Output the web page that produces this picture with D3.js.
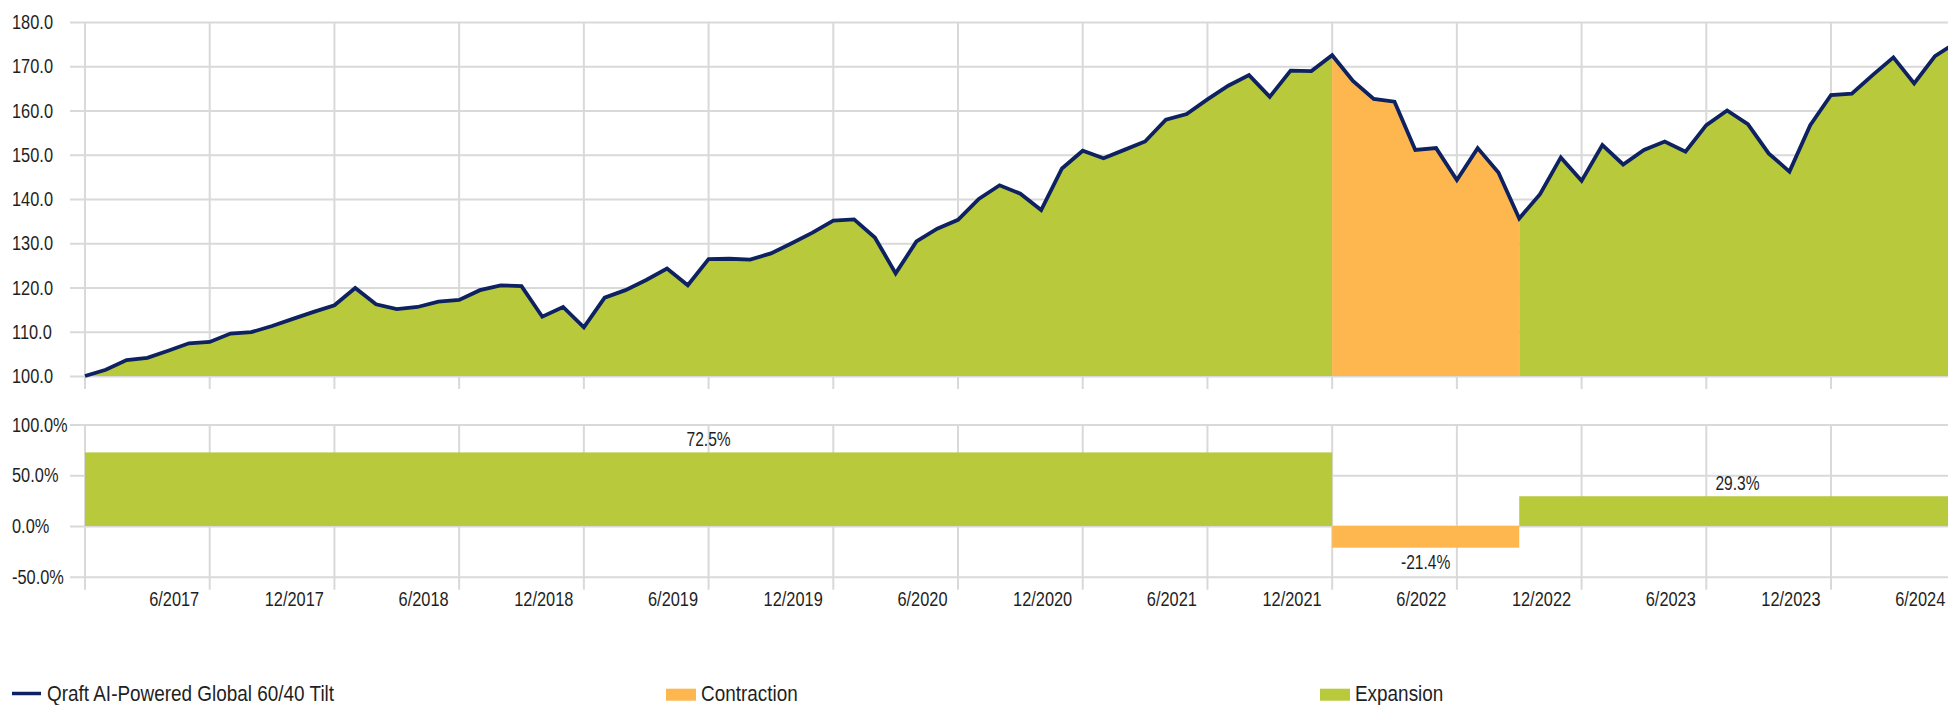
<!DOCTYPE html>
<html>
<head>
<meta charset="utf-8">
<script src="https://cdn.jsdelivr.net/npm/d3@7"></script>
<style>
  body { margin: 0; background: #fff; }
  svg { display: block; }
  text { font-family: "Liberation Sans", Arial, sans-serif; fill: #1f1f1f; }
</style>
</head>
<body>
<script>
// monthly index values, 12/2016 .. 6/2024
var indexValues = [
  100.0, 101.4, 103.6, 104.1, 105.7, 107.4, 107.7, 109.6, 109.9, 111.3,
  112.9, 114.5, 116.0, 119.9, 116.2, 115.1, 115.6, 116.8, 117.2, 119.4,
  120.5, 120.3, 113.4, 115.6, 111.0, 117.7, 119.4, 121.7, 124.3, 120.5,
  126.4, 126.5, 126.3, 127.7, 130.0, 132.4, 135.1, 135.4, 131.3, 123.2,
  130.4, 133.3, 135.3, 140.0, 143.1, 141.2, 137.5, 146.9, 150.9, 149.2,
  151.1, 153.0, 157.9, 159.2, 162.5, 165.6, 168.0, 163.1, 169.0, 168.9,
  172.5, 166.7, 162.6, 162.0, 151.1, 151.5, 144.3, 151.5, 146.0, 135.6,
  141.1, 149.4, 144.1, 152.2, 147.8, 151.1, 153.0, 150.7, 156.7, 160.0,
  156.9, 150.3, 146.2, 156.7, 163.5, 163.8, 168.0, 172.0, 166.1, 172.3,
  175.3
];

// x axis labels, every 6 months (month index of the label)
var tickIdx = [6, 12, 18, 24, 30, 36, 42, 48, 54, 60, 66, 72, 78, 84, 90];
var tickLabels = ["6/2017", "12/2017", "6/2018", "12/2018", "6/2019", "12/2019", "6/2020",
  "12/2020", "6/2021", "12/2021", "6/2022", "12/2022", "6/2023", "12/2023", "6/2024"];

// phases: start/end month index, type, total return
var phaseStart = [0, 60, 69];
var phaseEnd = [60, 69, 90];
var phaseType = ["Expansion", "Contraction", "Expansion"];
var phaseReturn = [72.5, -21.4, 29.3];

var yTicksTop = [100, 110, 120, 130, 140, 150, 160, 170, 180];
var yTicksBottom = [-50, 0, 50, 100];

var colors = { Expansion: "#b8ca3b", Contraction: "#feb74e" };
var lineColor = "#0e2160";
var gridColor = "#d9d9d9";

var W = 1948, H = 705;
var NARROW = 0.78;   // no condensed font installed, squeeze Liberation Sans instead
var svg = d3.select("body").append("svg").attr("width", W).attr("height", H);

var x = d3.scaleLinear().domain([0, 90]).range([85, 85 + 90 * 20.786]);
var yTop = d3.scaleLinear().domain([100, 180]).range([376, 22]);
var yBot = d3.scaleLinear().domain([-50, 100]).range([576.7, 424.5]);

var gridLeft = 70;

// squeeze text horizontally, keeping its anchor position
function narrow(sel, s) {
  sel.each(function() {
    var t = d3.select(this);
    var tx = +t.attr("x") || 0;
    var dx = +t.attr("dx") || 0;
    t.attr("x", tx / s).attr("dx", dx / s).attr("transform", "scale(" + s + ",1)");
  });
}

function styleYAxis(g) {
  g.select(".domain").remove();
  g.selectAll("line").attr("stroke", gridColor).attr("stroke-width", 2);
  g.selectAll("text").attr("x", 12 - gridLeft).attr("text-anchor", "start")
    .style("font-size", "21px").call(narrow, NARROW);
}

// ---- top panel ----
var topPanel = svg.append("g");

var yAxisTop = d3.axisLeft(yTop).tickValues(yTicksTop)
  .tickSize(-(W - gridLeft)).tickFormat(function(d) { return d.toFixed(1); });
topPanel.append("g")
  .attr("transform", "translate(" + gridLeft + ",0)")
  .call(yAxisTop)
  .call(styleYAxis);

// vertical grid
var vIdx = [0].concat(tickIdx);
topPanel.selectAll(".vgrid").data(vIdx).enter().append("line")
  .attr("x1", function(d) { return x(d); }).attr("x2", function(d) { return x(d); })
  .attr("y1", yTop(180)).attr("y2", yTop(100) + 13)
  .attr("stroke", gridColor).attr("stroke-width", 2);

// areas per phase
var area = d3.area()
  .x(function(d) { return x(d.i); })
  .y0(yTop(100))
  .y1(function(d) { return yTop(d.v); });

phaseStart.forEach(function(s, k) {
  var pts = [];
  for (var i = s; i <= phaseEnd[k]; i++) pts.push({ i: i, v: indexValues[i] });
  topPanel.append("path").attr("d", area(pts)).attr("fill", colors[phaseType[k]]);
});

var line = d3.line()
  .x(function(d, i) { return x(i); })
  .y(function(d) { return yTop(d); });
topPanel.append("path").datum(indexValues)
  .attr("d", line)
  .attr("fill", "none")
  .attr("stroke", lineColor)
  .attr("stroke-width", 3.8);

// ---- bottom panel ----
var botPanel = svg.append("g");

var yAxisBot = d3.axisLeft(yBot).tickValues(yTicksBottom)
  .tickSize(-(W - gridLeft)).tickFormat(function(d) { return d.toFixed(1) + "%"; });
botPanel.append("g")
  .attr("transform", "translate(" + gridLeft + ",0)")
  .call(yAxisBot)
  .call(styleYAxis);

botPanel.selectAll(".vgrid").data(vIdx).enter().append("line")
  .attr("x1", function(d) { return x(d); }).attr("x2", function(d) { return x(d); })
  .attr("y1", yBot(100)).attr("y2", yBot(-50) + 13)
  .attr("stroke", gridColor).attr("stroke-width", 2);

// bars
botPanel.selectAll(".bar").data(phaseStart).enter().append("rect")
  .attr("x", function(d) { return x(d); })
  .attr("width", function(d, k) { return x(phaseEnd[k]) - x(d); })
  .attr("y", function(d, k) { return yBot(Math.max(0, phaseReturn[k])); })
  .attr("height", function(d, k) { return Math.abs(yBot(phaseReturn[k]) - yBot(0)); })
  .attr("fill", function(d, k) { return colors[phaseType[k]]; });

// bar labels
botPanel.selectAll(".blabel").data(phaseStart).enter().append("text")
  .attr("x", function(d, k) { return (x(d) + x(phaseEnd[k])) / 2; })
  .attr("y", function(d, k) {
    var r = phaseReturn[k];
    return r >= 0 ? yBot(r) - 6 : yBot(r) + 21;
  })
  .attr("text-anchor", "middle")
  .style("font-size", "20px")
  .text(function(d, k) { return phaseReturn[k].toFixed(1) + "%"; })
  .call(narrow, NARROW);

// x axis labels
var xAxis = d3.axisBottom(x).tickValues(tickIdx).tickSize(0)
  .tickFormat(function(d, i) { return tickLabels[i]; });
botPanel.append("g")
  .attr("transform", "translate(0," + 590 + ")")
  .call(xAxis)
  .call(function(g) {
    g.select(".domain").remove();
    g.selectAll("text").attr("text-anchor", "end").attr("dx", -11)
      .attr("y", 16).attr("dy", 0).style("font-size", "21px").call(narrow, NARROW);
  });

// ---- legend ----
var leg = svg.append("g");
leg.append("line").attr("x1", 12).attr("x2", 41).attr("y1", 693.5).attr("y2", 693.5)
  .attr("stroke", lineColor).attr("stroke-width", 3.5);
leg.append("text").attr("x", 47).attr("y", 701).style("font-size", "21.5px")
  .text("Qraft AI-Powered Global 60/40 Tilt").call(narrow, 0.88);

var legItems = ["Contraction", "Expansion"];
var legX = [666, 1320];
legItems.forEach(function(t, k) {
  leg.append("rect").attr("x", legX[k]).attr("y", 688.7).attr("width", 30).attr("height", 12)
    .attr("fill", colors[t]);
  leg.append("text").attr("x", legX[k] + 35).attr("y", 701).style("font-size", "21.5px")
    .text(t).call(narrow, 0.88);
});
</script>
</body>
</html>
